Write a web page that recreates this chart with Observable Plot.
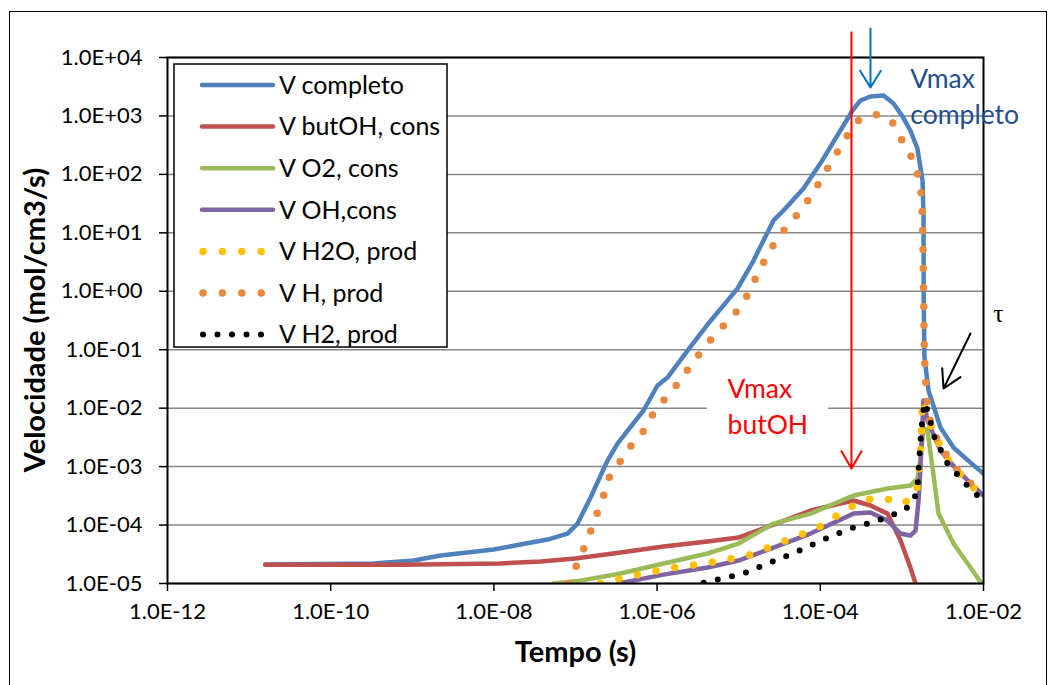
<!DOCTYPE html>
<html><head><meta charset="utf-8">
<script src="https://cdn.jsdelivr.net/npm/d3@7"></script>
<script src="https://cdn.jsdelivr.net/npm/@observablehq/plot@0.6"></script>
<style>
body{margin:0;background:#fff;}
#wrap{position:relative;width:1055px;height:685px;overflow:hidden;background:#fff;}
#frame{position:absolute;left:9px;top:11px;width:1036px;height:700px;border:1.5px solid #000;pointer-events:none;}
svg{position:absolute;left:0;top:0;}
</style></head><body><div id="wrap"><div id="frame"></div></div>
<script>
// ---- series (time in s, velocity in mol/cm3/s) ----
const seriesNames = ["V completo","V butOH, cons","V O2, cons","V OH,cons","V H2O, prod","V H, prod","V H2, prod"];
const seriesColors = ["#4F81BD","#C0504D","#9BBB59","#8064A2","#FFC000","#E8893D","#000000"];
const seriesDotted = [false,false,false,false,true,true,true];

const completo = [[1.58e-11,2.11e-5],[3.35e-10,2.2e-5],[1.04e-9,2.47e-5],[2.22e-9,3.01e-5],[4.74e-9,3.39e-5],[9.9e-9,3.81e-5],[2.12e-8,4.65e-5],[4.54e-8,5.65e-5],[7.98e-8,7.16e-5],[1.06e-7,1.06e-4],[1.53e-7,2.96e-4],[2.47e-7,1.27e-3],[3.27e-7,2.48e-3],[6.81e-7,9.12e-3],[1.01e-6,2.44e-2],[1.34e-6,3.34e-2],[2.36e-6,9.68e-2],[4.15e-6,0.27],[9.66e-6,1.11],[1.52e-5,3.36],[2.67e-5,16.3],[3.54e-5,24.1],[6.22e-5,57.3],[1.0e-4,153],[2.48e-4,1240],[3.11e-4,1840],[4.12e-4,2150],[5.96e-4,2240],[7.89e-4,1630],[1.02e-3,977],[1.27e-3,564],[1.55e-3,277],[1.79e-3,78.5],[1.84e-3,19.8],[1.85e-3,0.78],[1.89e-3,7.36e-2],[2.12e-3,2.0e-2],[2.97e-3,4.67e-3],[4.29e-3,2.12e-3],[6.93e-3,1.17e-3],[1.0e-2,7.62e-4]];
const butOH = [[1.58e-11,2.1e-5],[7.16e-10,2.1e-5],[1.2e-8,2.2e-5],[3.72e-8,2.38e-5],[1.0e-7,2.67e-5],[3.56e-7,3.39e-5],[1.2e-6,4.29e-5],[4.15e-6,5.22e-5],[9.95e-6,6.11e-5],[2.67e-5,1.02e-4],[7.59e-5,1.77e-4],[2.55e-4,2.63e-4],[4.12e-4,2.16e-4],[6.67e-4,1.57e-4],[9.62e-4,5.43e-5],[1.27e-3,1.88e-5],[1.47e-3,1.0e-5]];
const o2 = [[5.37e-8,1.0e-5],[1.15e-7,1.12e-5],[3.56e-7,1.48e-5],[1.2e-6,2.2e-5],[4.15e-6,3.26e-5],[9.95e-6,4.83e-5],[2.67e-5,1.06e-4],[7.59e-5,1.57e-4],[2.55e-4,3.2e-4],[6.67e-4,4.22e-4],[1.27e-3,4.74e-4],[1.55e-3,6.25e-4],[1.69e-3,1.37e-3],[1.84e-3,4.67e-3],[2.06e-3,4.14e-3],[2.37e-3,9.64e-4],[2.81e-3,1.57e-4],[4.29e-3,4.83e-5],[6.93e-3,1.88e-5],[9.44e-3,1.0e-5]];
const oh = [[3.37e-7,1.0e-5],[1.2e-6,1.42e-5],[4.15e-6,1.88e-5],[9.95e-6,2.47e-5],[2.67e-5,4.12e-5],[7.59e-5,7.16e-5],[2.55e-4,1.57e-4],[4.12e-4,1.64e-4],[6.67e-4,1.19e-4],[9.62e-4,7.16e-5],[1.27e-3,6.62e-5],[1.47e-3,8.05e-5],[1.6e-3,2.63e-4],[1.69e-3,9.64e-4],[1.84e-3,1.35e-2],[2.06e-3,6.15e-3],[2.97e-3,1.88e-3],[4.8e-3,8.57e-4],[1.0e-2,3.2e-4]];
const h2o = [[2.02e-7,1.0e-5],[5.75e-7,1.42e-5],[1.63e-6,1.88e-5],[4.65e-6,2.29e-5],[1.32e-5,3.01e-5],[3.54e-5,5.22e-5],[9.51e-5,9.08e-5],[2.28e-4,2.0e-4],[3.78e-4,2.74e-4],[6.3e-4,2.84e-4],[1.05e-3,2.33e-4],[1.51e-3,3.46e-4],[1.69e-3,1.67e-3],[1.79e-3,1.35e-2],[2.44e-3,3.68e-3],[3.94e-3,1.13e-3],[6.01e-3,6.01e-4],[1.0e-2,2.96e-4]];
const hRad = [[8.2e-8,1.0e-5],[9.18e-8,1.42e-5],[1.12e-7,2.67e-5],[1.36e-7,5.02e-5],[1.61e-7,9.44e-5],[1.91e-7,1.85e-4],[2.26e-7,3.46e-4],[2.61e-7,6.76e-4],[3.46e-7,1.17e-3],[4.59e-7,2.12e-3],[6.44e-7,3.54e-3],[8.07e-7,6.4e-3],[1.07e-6,1.15e-2],[1.5e-6,1.85e-2],[1.99e-6,3.34e-2],[2.72e-6,5.81e-2],[3.6e-6,0.101],[4.91e-6,0.168],[6.89e-6,0.281],[9.66e-6,0.469],[1.25e-5,0.813],[1.56e-5,1.53],[1.96e-5,2.87],[2.45e-5,5.19],[3.25e-5,9.35],[4.44e-5,15.6],[6.05e-5,26.1],[8.02e-5,47.1],[1.04e-4,84.9],[1.33e-4,153],[1.72e-4,277],[2.22e-4,501],[2.94e-4,836],[4.74e-4,1060],[7.46e-4,836],[9.35e-4,445],[1.21e-3,256],[1.47e-3,131],[1.69e-3,69.8],[1.79e-3,18.3],[1.84e-3,1.16],[1.89e-3,7.06e-2],[2.0e-3,1.78e-2],[2.12e-3,7.48e-3],[2.81e-3,2.48e-3],[4.8e-3,8.57e-4],[1.0e-2,3.2e-4]];
const h2 = [[2.5e-6,9.0e-6],[5.5e-6,1.17e-5],[1.15e-5,1.48e-5],[2.45e-5,2.29e-5],[5.26e-5,3.52e-5],[1.09e-4,5.65e-5],[2.34e-4,8.71e-5],[5.02e-4,1.19e-4],[1.05e-3,1.77e-4],[1.39e-3,2.52e-4],[1.55e-3,4.39e-4],[1.69e-3,2.79e-3],[1.79e-3,6.92e-3],[1.89e-3,1.25e-2],[2.06e-3,9.12e-3],[2.51e-3,3.15e-3],[3.62e-3,1.13e-3],[6.19e-3,4.93e-4],[1.0e-2,2.52e-4]];
const seriesData = [completo, butOH, o2, oh, h2o, hRad, h2];

// ---- axes ----
const xTicks = [1e-12,1e-10,1e-8,1e-6,1e-4,1e-2];
const yTicks = [1e-5,1e-4,1e-3,1e-2,1e-1,1e0,1e1,1e2,1e3,1e4];
const xTitle = "Tempo (s)";
const yTitle = "Velocidade (mol/cm3/s)";

// ---- annotations (data coordinates) ----
const arrowButOH = [{x1:2.41e-4, y1:2.7e4, x2:2.41e-4, y2:9.27e-4}];
const arrowCompleto = [{x1:4.12e-4, y1:3.13e4, x2:4.12e-4, y2:3070}];
const arrowTau = [{x1:6.93e-3, y1:0.189, x2:3.24e-3, y2:2.17e-2}];
const annotTexts = [
  {x:7.3e-6, y:1.15e-2, text:"Vmax\nbutOH", color:"#FF0000"},
  {x:1.27e-3, y:2330, text:"Vmax\ncompleto", color:"#1F4E8F"}
];
const tauLabel = [{x:1.53e-2, y:0.416, text:"τ"}];
const labelMask = [{x1:4.15e-6, x2:1.26e-4, y1:1.55e-3, y2:6.53e-2}];

const fmt = d => { const e = Math.round(Math.log10(d)); return "1.0E" + (e < 0 ? "-" : "+") + String(Math.abs(e)).padStart(2, "0"); };

const rows = seriesData.flatMap((s, i) => s.map(([t, v]) => ({t, v, name: seriesNames[i]})));
const seriesMarks = seriesNames.map((name, i) => Plot.line(rows.filter(r => r.name === name), seriesDotted[i]
  ? {x:"t", y:"v", stroke: seriesColors[i], strokeWidth: i === 6 ? 6 : 7.5, strokeDasharray: i === 6 ? "0 14.5" : "0 19", strokeLinecap:"round", clip: true}
  : {x:"t", y:"v", stroke: seriesColors[i], strokeWidth: 4.5, strokeLinejoin:"round", strokeLinecap:"round", clip: true}));

const chart = Plot.plot({
  width: 1055, height: 685,
  marginLeft: 167, marginRight: 72, marginTop: 57, marginBottom: 102,
  style: {fontFamily: "Lato, sans-serif", fontSize: "22px", background: "transparent", overflow: "visible"},
  x: {type: "log", domain: [1e-12, 1e-2]},
  y: {type: "log", domain: [1e-5, 1e4]},
  marks: [
    Plot.gridY(yTicks, {stroke: "#878787", strokeOpacity: 1, strokeWidth: 1.5}),
    Plot.rect(labelMask, {x1:"x1", x2:"x2", y1:"y1", y2:"y2", fill:"white"}),
    ...seriesMarks,
    Plot.frame({stroke: "black", strokeWidth: 2}),
    Plot.axisX(xTicks, {tickFormat: fmt, tickSize: 8, tickPadding: 12, fontSize: 22, strokeWidth: 1.5, label: null, fill: "black"}),
    Plot.axisY(yTicks, {tickFormat: fmt, tickSize: 8, tickPadding: 17, fontSize: 22, strokeWidth: 1.5, label: null, fill: "black"}),
    Plot.text([xTitle], {frameAnchor: "bottom", dy: 78, fontWeight: "bold", fontSize: 29, fill: "black"}),
    Plot.arrow(arrowButOH, {x1:"x1", y1:"y1", x2:"x2", y2:"y2", stroke: "#FF0000", strokeWidth: 2, headLength: 15, headAngle: 60}),
    Plot.arrow(arrowCompleto, {x1:"x1", y1:"y1", x2:"x2", y2:"y2", stroke: "#0070C0", strokeWidth: 2, headLength: 15, headAngle: 64}),
    Plot.arrow(arrowTau, {x1:"x1", y1:"y1", x2:"x2", y2:"y2", stroke: "#000000", strokeWidth: 2, headLength: 16, headAngle: 60}),
    Plot.text(annotTexts, {x:"x", y:"y", text:"text", fill: d => d.color, fontSize: 26.5, textAnchor: "start", lineHeight: 1.35}),
    Plot.text(tauLabel, {x:"x", y:"y", text:"text", fontSize: 26, fontFamily: "Liberation Serif, serif", fill: "black"})
  ]
});
document.getElementById("wrap").prepend(chart);

const svg = d3.select(chart);
// y axis title
svg.append("text").attr("transform", "translate(35,320) rotate(-90)")
  .attr("text-anchor", "middle").attr("dy", "0.35em")
  .attr("font-size", 29).attr("font-weight", "bold").attr("fill", "black").text(yTitle);

// ---- legend inside the plot area ----
const lg = svg.append("g").attr("text-anchor", "start");
lg.append("rect").attr("x", 174).attr("y", 64).attr("width", 273).attr("height", 283)
  .attr("fill", "white").attr("stroke", "black").attr("stroke-width", 1.5);
seriesNames.forEach((name, i) => {
  const y = 85 + i * 41.6;
  const dotted = seriesDotted[i];
  lg.append("line").attr("x1", dotted ? 203 : 202).attr("x2", dotted ? 261.5 : 273).attr("y1", y).attr("y2", y)
    .attr("stroke", seriesColors[i]).attr("stroke-width", dotted ? (i === 6 ? 6 : 7.5) : 4.5)
    .attr("stroke-linecap", "round")
    .attr("stroke-dasharray", dotted ? (i === 6 ? "0 14.5" : "0 19.4") : null);
  lg.append("text").attr("x", 279).attr("y", y).attr("dy", "0.35em").attr("text-anchor", "start")
    .attr("font-size", 25).attr("fill", "black").text(name);
});
</script></body></html>
